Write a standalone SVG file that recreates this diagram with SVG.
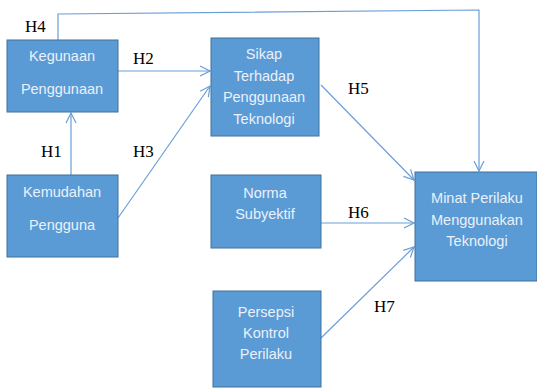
<svg xmlns="http://www.w3.org/2000/svg" width="537" height="388" viewBox="0 0 537 388">
<defs>
<marker id="arr" viewBox="0 0 12 12" refX="11" refY="6" markerWidth="12" markerHeight="12" markerUnits="userSpaceOnUse" orient="auto">
<path d="M1,1 L11,6 L1,11" fill="none" stroke="#6A9FD8" stroke-width="1.2"/>
</marker>
<style>
.box{fill:#5B9BD5;stroke:#41719C;stroke-width:1}
.t{font-family:"Liberation Sans",Arial,sans-serif;font-size:14.5px;fill:#EAF1FA;text-anchor:middle}
.h{font-family:"Liberation Serif","Times New Roman",serif;font-size:17px;fill:#000}
.c{fill:none;stroke:#6A9FD8;stroke-width:1.2;marker-end:url(#arr)}
</style>
</defs>
<rect width="537" height="388" fill="#fff"/>
<g id="connectors">
<path class="c" d="M58,40 L58,14 L479,10 L479,171"/>
<path class="c" d="M118,71 L210,71"/>
<path class="c" d="M118,218 L210,86"/>
<path class="c" d="M71,175 L71,113"/>
<path class="c" d="M321,85 L414,180"/>
<path class="c" d="M321,223 L414,223"/>
<path class="c" d="M321,338 L414,247"/>
</g>
<g id="labels">
<text class="h" x="25" y="32">H4</text>
<text class="h" x="133" y="64">H2</text>
<text class="h" x="41" y="157">H1</text>
<text class="h" x="133" y="157">H3</text>
<text class="h" x="348" y="94">H5</text>
<text class="h" x="348" y="218">H6</text>
<text class="h" x="374" y="312">H7</text>
</g>
<g id="kegunaan">
<rect class="box" x="7" y="40" width="111" height="72"/>
<text class="t" x="62" y="61">Kegunaan</text>
<text class="t" x="62" y="94">Penggunaan</text>
</g>
<g id="kemudahan">
<rect class="box" x="7" y="175" width="111" height="82"/>
<text class="t" x="62" y="197">Kemudahan</text>
<text class="t" x="62" y="230">Pengguna</text>
</g>
<g id="sikap">
<rect class="box" x="211" y="38" width="108" height="98"/>
<text class="t" x="264" y="59">Sikap</text>
<text class="t" x="264" y="81">Terhadap</text>
<text class="t" x="264" y="102">Penggunaan</text>
<text class="t" x="264" y="124">Teknologi</text>
</g>
<g id="norma">
<rect class="box" x="211" y="175" width="110" height="73"/>
<text class="t" x="265" y="198">Norma</text>
<text class="t" x="265" y="219">Subyektif</text>
</g>
<g id="persepsi">
<rect class="box" x="213" y="291" width="108" height="96"/>
<text class="t" x="266" y="317">Persepsi</text>
<text class="t" x="266" y="338">Kontrol</text>
<text class="t" x="266" y="359">Perilaku</text>
</g>
<g id="minat">
<rect class="box" x="415" y="172" width="122" height="109"/>
<text class="t" x="477" y="203">Minat Perilaku</text>
<text class="t" x="477" y="225">Menggunakan</text>
<text class="t" x="477" y="246">Teknologi</text>
</g>
</svg>
